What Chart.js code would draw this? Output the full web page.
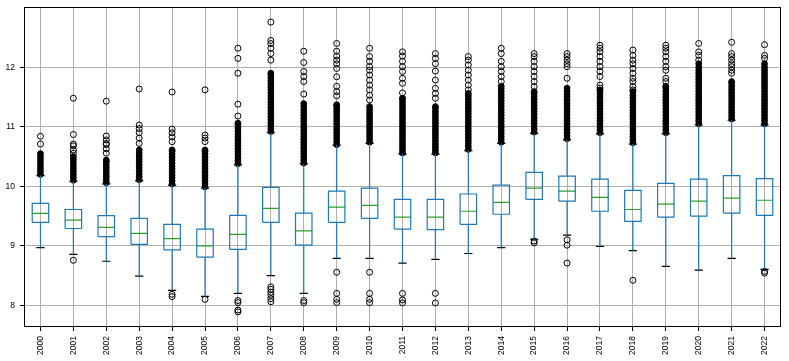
<!DOCTYPE html>
<html><head><meta charset="utf-8">
<script src="https://cdn.jsdelivr.net/npm/chart.js@4"></script>
<style>html,body{margin:0;padding:0;background:#fff}</style>
</head><body>
<canvas id="c" width="789" height="361"></canvas>
<script>
const years = ["2000","2001","2002","2003","2004","2005","2006","2007","2008","2009","2010","2011","2012","2013","2014","2015","2016","2017","2018","2019","2020","2021","2022"];
const q1 = [9.395,9.29,9.153,9.025,8.93,8.81,8.94,9.395,9.01,9.395,9.46,9.28,9.27,9.36,9.53,9.78,9.75,9.58,9.41,9.48,9.50,9.55,9.51];
const medians = [9.546,9.43,9.311,9.21,9.12,9.00,9.19,9.63,9.25,9.65,9.68,9.48,9.48,9.58,9.73,9.97,9.92,9.815,9.61,9.70,9.75,9.80,9.765];
const q3 = [9.714,9.61,9.506,9.46,9.36,9.28,9.51,9.98,9.55,9.92,9.97,9.78,9.78,9.87,10.02,10.235,10.17,10.12,9.93,10.05,10.12,10.18,10.13];
const whiskerLow = [8.97,8.857,8.74,8.49,8.25,8.15,8.20,8.50,8.20,8.79,8.79,8.71,8.77,8.87,8.97,9.11,9.18,8.99,8.92,8.655,8.59,8.79,8.605];
const whiskerHigh = [10.18,10.08,10.04,10.09,10.02,9.97,10.36,10.90,10.375,10.69,10.72,10.54,10.54,10.60,10.72,10.89,10.78,10.88,10.71,10.88,11.03,11.11,11.03];
// tightly packed outliers (overlapping into a solid stack)
const outliersDense = [
 /*2000*/[10.20,10.25,10.30,10.35,10.40,10.45,10.50,10.55],
 /*2001*/[10.10,10.15,10.20,10.25,10.30,10.35,10.40,10.45,10.50],
 /*2002*/[10.06,10.11,10.16,10.21,10.26,10.31,10.36,10.41,10.44],
 /*2003*/[10.11,10.16,10.21,10.26,10.31,10.36,10.41,10.46,10.51,10.56,10.61],
 /*2004*/[10.04,10.09,10.14,10.19,10.24,10.29,10.34,10.39,10.44,10.49,10.54,10.59,10.61],
 /*2005*/[9.99,10.04,10.09,10.14,10.19,10.24,10.29,10.34,10.39,10.44,10.49,10.54,10.59,10.61],
 /*2006*/[10.38,10.43,10.48,10.53,10.58,10.63,10.68,10.73,10.78,10.83,10.88,10.93,10.98,11.03,11.06],
 /*2007*/[10.92,10.97,11.02,11.07,11.12,11.17,11.22,11.27,11.32,11.37,11.42,11.47,11.52,11.57,11.62,11.67,11.72,11.77,11.82,11.87,11.90],
 /*2008*/[10.39,10.44,10.49,10.54,10.59,10.64,10.69,10.74,10.79,10.84,10.89,10.94,10.99,11.04,11.09,11.14,11.19,11.24,11.29,11.34,11.39],
 /*2009*/[10.70,10.75,10.80,10.85,10.90,10.95,11.00,11.05,11.10,11.15,11.20,11.25,11.30,11.35,11.37],
 /*2010*/[10.74,10.79,10.84,10.89,10.94,10.99,11.04,11.09,11.14,11.19,11.24,11.29,11.34],
 /*2011*/[10.56,10.61,10.66,10.71,10.76,10.81,10.86,10.91,10.96,11.01,11.06,11.11,11.16,11.21,11.26,11.31,11.36,11.41,11.46,11.48],
 /*2012*/[10.56,10.61,10.66,10.71,10.76,10.81,10.86,10.91,10.96,11.01,11.06,11.11,11.16,11.21,11.26,11.31,11.34],
 /*2013*/[10.62,10.67,10.72,10.77,10.82,10.87,10.92,10.97,11.02,11.07,11.12,11.17,11.22,11.27,11.32,11.37,11.42,11.47,11.52,11.56],
 /*2014*/[10.74,10.79,10.84,10.89,10.94,10.99,11.04,11.09,11.14,11.19,11.24,11.29,11.34,11.39,11.44,11.49,11.54,11.59,11.64,11.68],
 /*2015*/[10.91,10.96,11.01,11.06,11.11,11.16,11.21,11.26,11.31,11.36,11.41,11.46,11.51,11.56,11.59],
 /*2016*/[10.80,10.85,10.90,10.95,11.00,11.05,11.10,11.15,11.20,11.25,11.30,11.35,11.40,11.45,11.50,11.55,11.60,11.65],
 /*2017*/[10.90,10.95,11.00,11.05,11.10,11.15,11.20,11.25,11.30,11.35,11.40,11.45,11.50,11.55,11.60,11.62],
 /*2018*/[10.73,10.78,10.83,10.88,10.93,10.98,11.03,11.08,11.13,11.18,11.23,11.28,11.33,11.38,11.43,11.48,11.53,11.59],
 /*2019*/[10.90,10.95,11.00,11.05,11.10,11.15,11.20,11.25,11.30,11.35,11.40,11.45,11.50,11.55,11.60,11.65,11.68],
 /*2020*/[11.05,11.10,11.15,11.20,11.25,11.30,11.35,11.40,11.45,11.50,11.55,11.60,11.65,11.70,11.75,11.80,11.85,11.90,11.95,12.00,12.06],
 /*2021*/[11.13,11.18,11.23,11.28,11.33,11.38,11.43,11.48,11.53,11.58,11.63,11.68,11.73,11.76],
 /*2022*/[11.05,11.10,11.15,11.20,11.25,11.30,11.35,11.40,11.45,11.50,11.55,11.60,11.65,11.70,11.75,11.80,11.85,11.90,11.95,12.00,12.06]
];
// individually visible outliers
const outliersSparse = [
 /*2000*/[10.71,10.84],
 /*2001*/[8.756,10.555,10.61,10.68,10.71,10.87,11.48],
 /*2002*/[10.555,10.63,10.70,10.72,10.78,10.845,11.43],
 /*2003*/[10.72,10.81,10.90,10.97,11.03,11.635],
 /*2004*/[8.185,8.145,10.75,10.83,10.90,10.96,11.585],
 /*2005*/[8.10,10.75,10.81,10.86,11.62],
 /*2006*/[8.08,8.045,7.92,7.89,11.18,11.38,11.90,12.15,12.32],
 /*2007*/[8.31,8.27,8.22,8.17,8.11,8.06,12.12,12.23,12.32,12.40,12.45,12.76],
 /*2008*/[8.08,8.045,11.55,11.76,11.845,11.93,12.08,12.27],
 /*2009*/[8.555,8.20,8.10,8.045,11.52,11.59,11.68,11.84,11.98,12.06,12.12,12.19,12.27,12.40],
 /*2010*/[8.555,8.20,8.10,8.045,11.45,11.53,11.62,11.70,11.785,11.87,11.95,12.01,12.10,12.18,12.32],
 /*2011*/[8.20,8.09,8.04,11.57,11.73,11.815,11.93,12.01,12.10,12.19,12.26],
 /*2012*/[8.20,8.04,11.48,11.56,11.645,11.785,11.935,12.06,12.15,12.23],
 /*2013*/[11.62,11.70,11.785,11.87,11.95,12.04,12.12,12.18],
 /*2014*/[11.76,11.845,11.93,12.01,12.10,12.23,12.32],
 /*2015*/[9.08,9.05,11.675,11.76,11.845,11.93,12.01,12.10,12.18,12.23],
 /*2016*/[9.10,9.01,8.71,11.815,12.01,12.06,12.12,12.18,12.23],
 /*2017*/[11.65,11.70,11.845,11.93,12.01,12.10,12.18,12.26,12.32,12.37],
 /*2018*/[8.42,11.62,11.675,11.76,11.815,11.90,11.98,12.06,12.12,12.20,12.29],
 /*2019*/[11.76,11.815,11.95,12.01,12.10,12.18,12.26,12.32,12.37],
 /*2020*/[12.12,12.20,12.26,12.40],
 /*2021*/[11.90,11.95,12.01,12.06,12.12,12.18,12.23,12.42],
 /*2022*/[8.57,8.54,12.15,12.20,12.38]
];

const BOX_HALF = 0.25, CAP_HALF = 0.125;
const boxPts = [], medPts = [], whiskPts = [], capPts = [], densePts = [], sparsePts = [];
years.forEach((yr, i) => {
  const x = i + 1;
  boxPts.push({x:x-BOX_HALF,y:q1[i]},{x:x+BOX_HALF,y:q1[i]},{x:x+BOX_HALF,y:q3[i]},{x:x-BOX_HALF,y:q3[i]},{x:x-BOX_HALF,y:q1[i]},{x:x,y:null});
  medPts.push({x:x-BOX_HALF,y:medians[i]},{x:x+BOX_HALF,y:medians[i]},{x:x,y:null});
  whiskPts.push({x:x,y:q1[i]},{x:x,y:whiskerLow[i]},{x:x,y:null},{x:x,y:q3[i]},{x:x,y:whiskerHigh[i]},{x:x,y:null});
  capPts.push({x:x-CAP_HALF,y:whiskerLow[i]},{x:x+CAP_HALF,y:whiskerLow[i]},{x:x,y:null},{x:x-CAP_HALF,y:whiskerHigh[i]},{x:x+CAP_HALF,y:whiskerHigh[i]},{x:x,y:null});
  outliersDense[i].forEach(v => densePts.push({x:x,y:v}));
  outliersSparse[i].forEach(v => sparsePts.push({x:x,y:v}));
});

const lineDs = (data, color) => ({data, showLine:true, borderColor:color, borderWidth:1.2, pointRadius:0, spanGaps:false, fill:false, borderJoinStyle:'miter'});

const frame = {
  id:'frame',
  afterDraw(chart){
    const a = chart.chartArea, ctx = chart.ctx;
    ctx.save(); ctx.strokeStyle = '#000'; ctx.lineWidth = 1;
    ctx.strokeRect(Math.round(a.left)+0.5, Math.round(a.top)+0.5, Math.round(a.right-a.left)-1, Math.round(a.bottom-a.top)-1);
    ctx.restore();
  }
};
const zeroPad = s => { s.paddingTop = 0; s.paddingBottom = 0; s.paddingLeft = 0; s.paddingRight = 0; };

const tickFont = {family:"'Liberation Sans', Arial, sans-serif", size:8.5};
new Chart(document.getElementById('c'), {
  type:'scatter',
  data:{datasets:[
    lineDs(whiskPts,'#1f77b4'),
    lineDs(boxPts,'#1f77b4'),
    lineDs(medPts,'#2ca02c'),
    lineDs(capPts,'#000000'),
    {data:densePts, pointStyle:'circle', pointRadius:2.9, borderColor:'#000', backgroundColor:'#000', borderWidth:1, showLine:false},
    {data:sparsePts, pointStyle:'circle', pointRadius:3, borderColor:'#000', backgroundColor:'rgba(0,0,0,0)', borderWidth:1, showLine:false}
  ]},
  options:{
    responsive:false, animation:false, devicePixelRatio:1,
    layout:{padding:{left:0, top:7, right:8, bottom:0}},
    plugins:{legend:{display:false}, tooltip:{enabled:false}},
    scales:{
      x:{type:'linear', min:0.5, max:23.5,
        afterBuildTicks(s){ s.ticks = years.map((_,i)=>({value:i+1})); },
        afterFit(s){ s.height = 34; zeroPad(s); },
        ticks:{autoSkip:false, minRotation:90, maxRotation:90, padding:5, color:'#000', font:tickFont,
          callback:(v)=>years[Math.round(v)-1]},
        grid:{color:'#b0b0b0', lineWidth:1, tickLength:4, tickColor:'#000'},
        border:{display:false}
      },
      y:{type:'linear', min:7.635, max:13.013,
        afterBuildTicks(s){ s.ticks = [8,9,10,11,12].map(v=>({value:v})); },
        afterFit(s){ s.width = 24; zeroPad(s); },
        ticks:{padding:5, color:'#000', font:tickFont, callback:(v)=>String(v)},
        grid:{color:'#b0b0b0', lineWidth:1, tickLength:4, tickColor:'#000'},
        border:{display:false}
      }
    }
  },
  plugins:[frame]
});
</script>
</body></html>
